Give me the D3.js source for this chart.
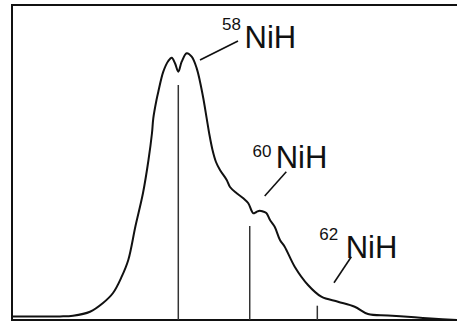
<!DOCTYPE html>
<html>
<head>
<meta charset="utf-8">
<script src="https://cdn.jsdelivr.net/npm/d3@7"></script>
<style>
  html, body { margin: 0; padding: 0; background: #fff; }
  svg { display: block; }
  text { font-family: "Liberation Sans", Arial, Helvetica, sans-serif; fill: #111; }
</style>
</head>
<body>
<svg id="chart" width="457" height="322"></svg>
<script>
// Spectrum trace: position (arbitrary units, 0-100) and intensity (0-100)
const tracePos = [0, 6.29, 10.79, 13.71, 17.53, 20.45, 22.70, 24.65, 26.13, 27.75, 29.44, 30.67, 31.46, 31.75, 32.47, 32.88, 34.00, 35.12, 35.89, 36.63, 37.37, 38.13, 39.26, 40.38, 41.51, 42.25, 42.99, 43.75, 44.38, 45.06, 45.84, 46.74, 48.25, 48.99, 50.49, 51.98, 53.10, 53.87, 54.22, 54.94, 55.66, 56.40, 57.15, 57.98, 59.03, 60.22, 61.28, 63.53, 66.52, 69.51, 73.26, 77.01, 80.00, 84.49, 90.49, 94.16, 100];
const traceInt = [1.11, 1.08, 1.14, 1.37, 2.63, 5.40, 8.57, 13.75, 19.05, 29.84, 40.32, 50.79, 59.37, 64.03, 69.84, 72.48, 78.83, 82.22, 83.27, 81.49, 78.83, 82.00, 84.67, 83.59, 79.90, 75.65, 70.38, 64.03, 58.73, 53.97, 50.16, 47.62, 44.44, 42.22, 40.22, 38.63, 37.05, 34.60, 33.87, 34.29, 34.70, 34.44, 33.97, 31.75, 29.62, 25.40, 23.27, 16.92, 11.11, 7.40, 5.81, 4.22, 1.90, 1.43, 0.86, 0.48, 0];

// Isotope stick lines
const isotopes = ["58", "60", "62"];
const stickPos = [37.37, 53.42, 68.61];
const stickInt = [74.60, 29.84, 4.54];

// Annotation labels (species name and mass superscript)
const labelName = "NiH";
const labelX = [52.25, 59.26, 74.99];
const labelY = [86.44, 48.41, 19.59];
const supX = [47.19, 54.04, 69.03];
const supY = [92.06, 51.84, 25.40];
// Leader lines
const leadX1 = [42.25, 56.79, 72.36];
const leadY1 = [82.54, 39.37, 11.84];
const leadX2 = [50.79, 61.64, 76.25];
const leadY2 = [88.57, 47.08, 20.10];

const svg = d3.select("#chart");
const x = d3.scaleLinear().domain([0, 100]).range([12, 457]);
const y = d3.scaleLinear().domain([0, 100]).range([320, 5]);

// Frame (top, left, bottom; open on the right)
const frame = svg.append("g").attr("stroke", "#111").attr("stroke-width", 2).attr("fill", "none");
frame.append("path").attr("d", d3.line()([[x(100), y(100)], [x(0), y(100)], [x(0), y(0)], [x(100), y(0)]]));

// Sticks
svg.append("g").selectAll("line").data(isotopes).join("line")
  .attr("x1", (d, i) => x(stickPos[i])).attr("x2", (d, i) => x(stickPos[i]))
  .attr("y1", y(0)).attr("y2", (d, i) => y(stickInt[i]))
  .attr("stroke", "#333").attr("stroke-width", 1.5);

// Trace
const pts = tracePos.map((p, i) => [p, traceInt[i]]);
svg.append("path").datum(pts)
  .attr("fill", "none").attr("stroke", "#111").attr("stroke-width", 2)
  .attr("stroke-linejoin", "round")
  .attr("d", d3.line().x(d => x(d[0])).y(d => y(d[1])).curve(d3.curveCatmullRom.alpha(0.5)));

// Leader lines
svg.append("g").selectAll("line").data(isotopes).join("line")
  .attr("x1", (d, i) => x(leadX1[i])).attr("y1", (d, i) => y(leadY1[i]))
  .attr("x2", (d, i) => x(leadX2[i])).attr("y2", (d, i) => y(leadY2[i]))
  .attr("stroke", "#111").attr("stroke-width", 1.6);

// Labels
const lab = svg.append("g");
lab.selectAll("text.sup").data(isotopes).join("text").attr("class", "sup")
  .attr("x", (d, i) => x(supX[i])).attr("y", (d, i) => y(supY[i]))
  .attr("font-size", 17).text(d => d);
lab.selectAll("text.name").data(isotopes).join("text").attr("class", "name")
  .attr("x", (d, i) => x(labelX[i])).attr("y", (d, i) => y(labelY[i]))
  .attr("font-size", 31).text(labelName);
</script>
</body>
</html>
